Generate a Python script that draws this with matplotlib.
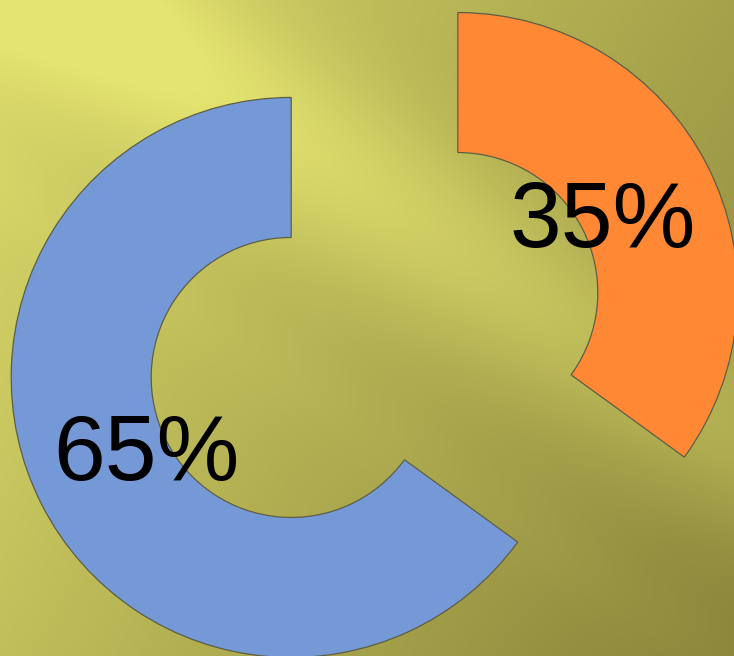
import numpy as np
import matplotlib
matplotlib.use("Agg")
import matplotlib.pyplot as plt
from matplotlib.transforms import offset_copy

# Data
categories = ["A", "B"]
shares = [65, 35]
colors = ["#7499D6", "#FF8835"]

W, H = 734, 656
fig = plt.figure(figsize=(W / 100, H / 100), dpi=100)

# Background: olive gradient with a soft diagonal light streak
bg = fig.add_axes([0, 0, 1, 1])
yy, xx = np.mgrid[0:H, 0:W].astype(float)
theta = np.deg2rad(33)
u = -np.sin(theta) * xx + np.cos(theta) * yy
v = np.cos(theta) * xx + np.sin(theta) * yy
t = 0.15 + 0.85 * (v / 930.0) - 0.35 * np.exp(-((u + 40) / 90.0) ** 2)
t -= 0.04 * np.exp(-((u - 160) / 40.0) ** 2)
t -= 0.12 * np.clip(u / 500.0, 0, 1) * np.clip(1 - v / 900.0, 0, 1)
t = np.clip(t, 0, 1)[..., None]
bright = np.array([228, 228, 112]) / 255.0
dark = np.array([140, 135, 60]) / 255.0
img = bright * (1 - t) + dark * t
bg.imshow(img, extent=(0, W, H, 0), aspect="auto", interpolation="bilinear")
bg.set_axis_off()

# Exploded donut in pixel units
ax = fig.add_axes([0, 0, 1, 1])
ax.patch.set_visible(False)
center = (374.5, H - 335)
radius = 280
wedges, texts, autotexts = ax.pie(
    shares,
    colors=colors,
    startangle=90,
    counterclock=True,
    radius=radius,
    center=center,
    explode=[93.5, 93.5],
    autopct=lambda p: f"{p:.0f}%",
    pctdistance=0.58,
    wedgeprops=dict(width=140, edgecolor="#5E5E45", linewidth=0.9),
    textprops=dict(fontsize=67, family="Liberation Sans", color="black",
                   va="center_baseline"),
)
label_tf = offset_copy(ax.transData, fig=fig, x=0, y=5, units="dots")
for txt in autotexts:
    txt.set_transform(label_tf)

ax.set_xlim(0, W)
ax.set_ylim(0, H)
ax.set_aspect("equal")
ax.set_axis_off()

fig.savefig("out.png", dpi=100)
